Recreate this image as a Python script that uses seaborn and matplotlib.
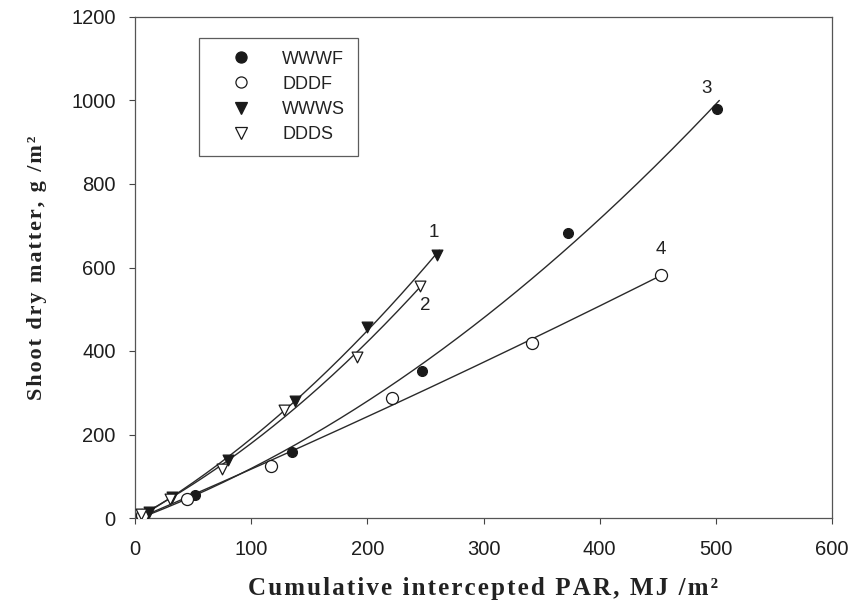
import numpy as np
import pandas as pd
import matplotlib
matplotlib.use("Agg")
import matplotlib.pyplot as plt
from matplotlib.lines import Line2D
import seaborn as sns

# ---- data ----
wwwf_x = [8, 52, 135, 247, 373, 501]
wwwf_y = [8, 55, 158, 352, 683, 980]
dddf_x = [6, 45, 117, 221, 342, 453]
dddf_y = [6, 45, 125, 288, 420, 583]
wwws_x = [12, 32, 80, 138, 200, 260]
wwws_y = [15, 50, 140, 280, 458, 630]
ddds_x = [5, 30, 75, 128, 191, 245]
ddds_y = [10, 45, 117, 258, 386, 555]

series_names = ["WWWF", "DDDF", "WWWS", "DDDS"]
curve_labels = ["3", "4", "1", "2"]
curve_label_pos = [(492, 1029), (453, 642), (257, 683), (250, 510)]

x_ticks = [0, 100, 200, 300, 400, 500, 600]
y_ticks = [0, 200, 400, 600, 800, 1000, 1200]

x_title = "Cumulative intercepted PAR, MJ /m\u00b2"
y_title = "Shoot dry matter, g /m\u00b2"


def spaced(s, sp="\u200a"):
    return sp.join(list(s))


sns.set_theme(style="white")
plt.rcParams["font.family"] = ["Liberation Sans", "DejaVu Sans"]

fig = plt.figure(figsize=(8.51, 6.07), dpi=100)
ax = fig.add_axes([135 / 851, 1 - 518 / 607, 697 / 851, 501 / 607])

styles = {
    "WWWF": dict(marker="o", face="#1a1a1a", size=50),
    "DDDF": dict(marker="o", face="white", size=75),
    "WWWS": dict(marker="v", face="#1a1a1a", size=60),
    "DDDS": dict(marker="v", face="white", size=60),
}
data = {
    "WWWF": (wwwf_x, wwwf_y),
    "DDDF": (dddf_x, dddf_y),
    "WWWS": (wwws_x, wwws_y),
    "DDDS": (ddds_x, ddds_y),
}

for name in series_names:
    xs, ys = data[name]
    fx = np.array([0] + list(xs), dtype=float)
    fy = np.array([0] + list(ys), dtype=float)
    coef = np.polyfit(fx, fy, 2)
    gx = np.linspace(0, max(xs) + 2, 200)
    gy = np.polyval(coef, gx)
    sns.lineplot(x=gx, y=gy, ax=ax, color="#2a2a2a", linewidth=1.0, zorder=2)

for name in series_names:
    xs, ys = data[name]
    st = styles[name]
    sns.scatterplot(x=xs, y=ys, ax=ax, marker=st["marker"], s=st["size"],
                    color=st["face"], edgecolor="#1a1a1a", linewidth=0.9, zorder=3)

for lab, (lx, ly) in zip(curve_labels, curve_label_pos):
    ax.text(lx, ly, lab, fontsize=13.5, ha="center", va="center", color="#222222")

ax.set_xlim(0, 600)
ax.set_ylim(0, 1200)
ax.set_xticks(x_ticks)
ax.set_yticks(y_ticks)
ax.tick_params(axis="both", direction="out", length=4, width=0.8, color="#444444",
               labelsize=14.5, labelcolor="#1e1e1e")
ax.tick_params(axis="x", pad=12)
ax.tick_params(axis="y", pad=10)
ax.xaxis.set_ticks_position("bottom")
ax.yaxis.set_ticks_position("left")
for sp in ax.spines.values():
    sp.set_color("#555555")
    sp.set_linewidth(0.9)
    sp.set_visible(True)

serif = ["Liberation Serif", "DejaVu Serif"]
ax.set_xlabel(spaced(x_title), fontsize=18, fontweight="bold",
              family=serif, color="#222222", labelpad=13)
ax.set_ylabel(spaced(y_title), fontsize=16, fontweight="bold",
              family=serif, color="#222222", labelpad=17)

handles = []
for name in series_names:
    st = styles[name]
    handles.append(Line2D([], [], linestyle="none", marker=st["marker"],
                          markersize=8, markerfacecolor=st["face"],
                          markeredgecolor="#1a1a1a", markeredgewidth=0.9))
leg = ax.legend(handles, series_names, loc="upper left",
                bbox_to_anchor=(64 / 697, 480 / 501), fontsize=13,
                frameon=True, fancybox=False, edgecolor="#333333",
                handlelength=3.2, handletextpad=0.7, labelspacing=0.45,
                borderpad=0.7, borderaxespad=0.0)
leg.get_frame().set_linewidth(0.9)
for t in leg.get_texts():
    t.set_color("#222222")

fig.savefig("out.png", dpi=100, facecolor="white")
